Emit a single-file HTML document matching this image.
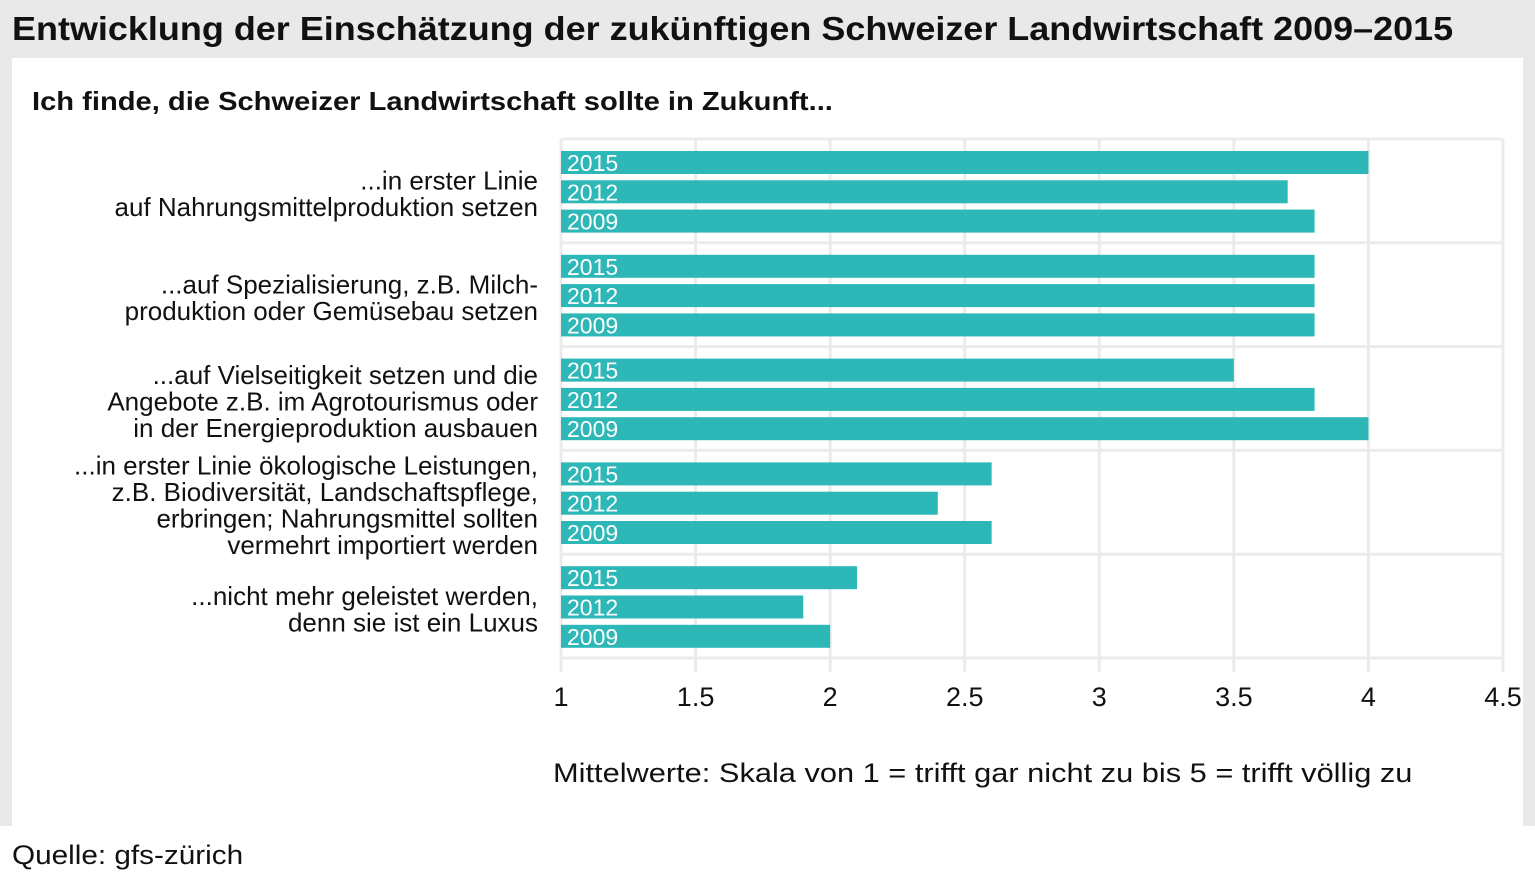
<!DOCTYPE html>
<html><head><meta charset="utf-8">
<style>
body{margin:0;width:1535px;height:874px;background:#fff;font-family:"Liberation Sans",sans-serif;overflow:hidden;position:relative}
#bg{position:absolute;left:0;top:0;width:1535px;height:826px;background:#e9e9e9}
#panel{position:absolute;left:12px;top:58px;width:1511px;height:768px;background:#fff}
.t{position:absolute;white-space:nowrap;color:#111;transform-origin:0 0}
</style></head><body>
<div id="bg"></div>
<div id="panel"></div>
<div class="t" style="left:12px;top:10px;font-size:33px;font-weight:bold;transform:scaleX(1.09)">Entwicklung der Einschätzung der zukünftigen Schweizer Landwirtschaft 2009–2015</div>
<div class="t" style="left:32px;top:86px;font-size:26px;font-weight:bold;transform:scaleX(1.12)">Ich finde, die Schweizer Landwirtschaft sollte in Zukunft...</div>
<div class="t" style="left:553px;top:758px;font-size:27px;transform:scaleX(1.14)">Mittelwerte: Skala von 1 = trifft gar nicht zu bis 5 = trifft völlig zu</div>
<div class="t" style="left:12px;top:840px;font-size:27px;transform:scaleX(1.1)">Quelle: gfs-zürich</div>
<svg id="chart" width="1535" height="874" style="position:absolute;left:0;top:0"></svg>
<script>
const categories=[["...in erster Linie","auf Nahrungsmittelproduktion setzen"],["...auf Spezialisierung, z.B. Milch-","produktion oder Gemüsebau setzen"],["...auf Vielseitigkeit setzen und die","Angebote z.B. im Agrotourismus oder","in der Energieproduktion ausbauen"],["...in erster Linie ökologische Leistungen,","z.B. Biodiversität, Landschaftspflege,","erbringen; Nahrungsmittel sollten","vermehrt importiert werden"],["...nicht mehr geleistet werden,","denn sie ist ein Luxus"]];
const years=["2015","2012","2009"];
const v2015=[4.0,3.8,3.5,2.6,2.1];
const v2012=[3.7,3.8,3.8,2.4,1.9];
const v2009=[3.8,3.8,4.0,2.6,2.0];
const ticks=[1,1.5,2,2.5,3,3.5,4,4.5];
const tickLabels=["1","1.5","2","2.5","3","3.5","4","4.5"];
const svg=document.getElementById('chart');const NS="http://www.w3.org/2000/svg";
const X0=561,X1=1503,TOP=139,GH=103.8;
const xs=v=>X0+(v-1)/(4.5-1)*(X1-X0);
function mk(t,a){const e=document.createElementNS(NS,t);for(const k in a)e.setAttribute(k,a[k]);svg.appendChild(e);return e;}
const BOTTOM=TOP+GH*categories.length;
ticks.forEach((t,i)=>{const g=mk('line',{x1:xs(t),x2:xs(t),y1:TOP,y2:BOTTOM+14,stroke:'#ebebeb','stroke-width':3});


const l=mk('text',{x:xs(t),y:BOTTOM+48,'text-anchor':'middle','font-size':27,fill:'#111'});l.textContent=tickLabels[i];

});
for(let i=0;i<=categories.length;i++){const h=mk('line',{x1:X0,x2:X1,y1:TOP+i*GH,y2:TOP+i*GH,stroke:'#ebebeb','stroke-width':3});

}
const series=[v2015,v2012,v2009];
categories.forEach((c,gi)=>{
 const gy=TOP+gi*GH;
 series.forEach((s,si)=>{const y=gy+12+si*29.3;
  const r=mk('rect',{x:X0,y:y,width:xs(s[gi])-X0,height:23,fill:'#2db7b7'});
  
  
  const t=mk('text',{x:X0+6,y:y+20,'font-size':23,fill:'#fff'});t.textContent=years[si];
  
  });
 const n=c.length,lh=26.5,cy=gy+GH/2+8;
 c.forEach((line,li)=>{const t=mk('text',{x:538,y:cy+(li-(n-1)/2)*lh+4,'text-anchor':'end','font-size':26,fill:'#111'});t.textContent=line;
  
  });
});
</script>
</body></html>
